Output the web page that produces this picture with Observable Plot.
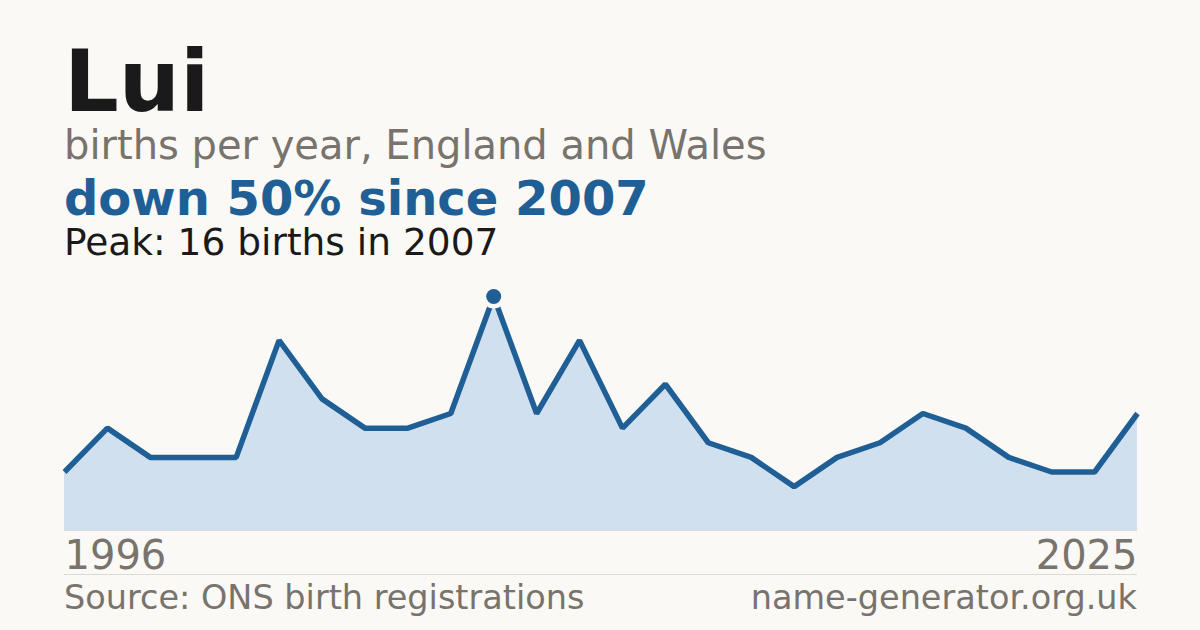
<!DOCTYPE html>
<html>
<head>
<meta charset="utf-8">
<script src="https://cdn.jsdelivr.net/npm/d3@7"></script>
<script src="https://cdn.jsdelivr.net/npm/@observablehq/plot@0.6"></script>
<style>
  html, body { margin: 0; padding: 0; background: #faf9f5; }
  body { width: 1200px; height: 630px; position: relative; overflow: hidden; font-family: "DejaVu Sans", sans-serif; }
  .t { position: absolute; left: 64px; white-space: nowrap; line-height: 1; }
  #title { top: 38px; font-size: 86px; font-weight: bold; color: #1a1a1a; }
  #sub { top: 125px; font-size: 40px; color: #78736c; }
  #hl { top: 178.8px; font-size: 48px; font-weight: bold; color: #1f5f95; line-height: 0.8; }
  #peak { top: 226.9px; font-size: 37.5px; color: #1a1a1a; line-height: 0.8; }
  #chart { position: absolute; left: 0; top: 270px; }
  #sep { position: absolute; left: 64px; width: 1073px; top: 574px; height: 1px; background: #dddad3; }
  .foot { position: absolute; top: 581px; font-size: 33.5px; color: #78736c; white-space: nowrap; line-height: 1; }
  #src { left: 64px; }
  #site { right: 63px; }
</style>
</head>
<body>
<div class="t" id="title">Lui</div>
<div class="t" id="sub">births per year, England and Wales</div>
<div class="t" id="hl">down 50% since 2007</div>
<div class="t" id="peak">Peak: 16 births in 2007</div>
<div id="chart"></div>
<div id="sep"></div>
<div class="foot" id="src">Source: ONS birth registrations</div>
<div class="foot" id="site">name-generator.org.uk</div>
<script>
const years = [1996, 1997, 1998, 1999, 2000, 2001, 2002, 2004, 2005, 2006, 2007, 2008, 2009, 2010, 2011, 2013, 2014, 2015, 2017, 2018, 2019, 2021, 2022, 2023, 2024, 2025];
const births = [4, 7, 5, 5, 5, 13, 9, 7, 7, 8, 16, 8, 13, 7, 10, 6, 5, 3, 5, 6, 8, 7, 5, 4, 4, 8];
const peakYear = 2007;

const data = years.map((year, i) => ({ i, year, births: births[i] }));
const peak = data.filter(d => d.year === peakYear);
const ends = [data[0], data[data.length - 1]];

const blue = "#1f5f95";
const bg = "#faf9f5";

const chart = Plot.plot({
  width: 1200,
  height: 300,
  marginLeft: 64,
  marginRight: 63,
  marginTop: 26,
  marginBottom: 40,
  style: { background: "transparent", fontFamily: "DejaVu Sans, sans-serif" },
  x: { domain: [0, years.length - 1], axis: null },
  y: { domain: [0, 16], axis: null },
  marks: [
    Plot.areaY(data, { x: "i", y: "births", fill: "#d0e0ef" }),
    Plot.ruleY([0], { stroke: "#dddad3", strokeWidth: 1 }),
    Plot.lineY(data, { x: "i", y: "births", stroke: blue, strokeWidth: 5.5, strokeLinejoin: "miter", strokeLinecap: "butt" }),
    Plot.dot(peak, { x: "i", y: "births", r: 12, fill: bg, stroke: "none" }),
    Plot.dot(peak, { x: "i", y: "births", r: 7.5, fill: blue, stroke: "none" }),
    Plot.text([ends[0]], { x: "i", y: 0, text: d => String(d.year), textAnchor: "start", lineAnchor: "bottom", dy: 38, fontSize: 40, fill: "#78736c" }),
    Plot.text([ends[1]], { x: "i", y: 0, text: d => String(d.year), textAnchor: "end", lineAnchor: "bottom", dy: 38, fontSize: 40, fill: "#78736c" })
  ]
});
chart.style.overflow = "visible";
document.getElementById("chart").appendChild(chart);
</script>
</body>
</html>
